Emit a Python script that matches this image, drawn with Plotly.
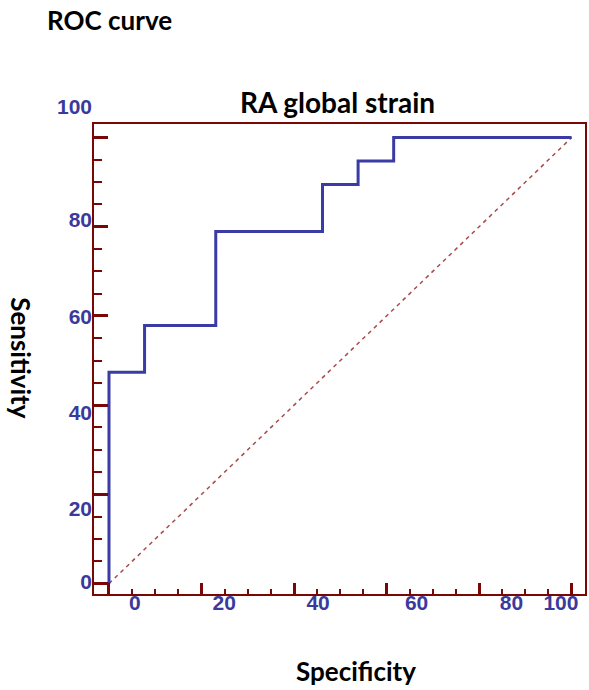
import plotly.graph_objects as go

# ROC curve data (100 - specificity, sensitivity)
fpr = [0, 0, 7.69, 23.08, 46.15, 53.85, 61.54, 100]
tpr = [0, 47.37, 57.89, 78.95, 89.47, 94.74, 100, 100]
diag_x = [0, 100]
diag_y = [0, 100]

# tick labels as printed in the reference, with the value where each one sits
x_tick_text = ["0", "20", "40", "60", "80", "100"]
x_tick_at = [5.6, 24.9, 45.2, 66.5, 87.0, 97.7]
y_tick_text = ["100", "80", "60", "40", "20", "0"]
y_tick_at = [107.0, 81.6, 59.8, 38.4, 16.8, 0.5]

FRAME = "#7a0606"
BLUE = "#3b3ba6"
LABEL_BLUE = "#3a3a9c"
TXT_FONT = "Lato"
TICK_FONT = dict(family="Liberation Sans, Arial", size=21, color=LABEL_BLUE, weight="bold")

XR = [-3.24, 102.9]
YR = [-2.33, 103.1]

fig = go.Figure()
fig.add_trace(go.Scatter(x=diag_x, y=diag_y, mode="lines",
                         line=dict(color="#a84a4a", width=1.5, dash="4px,4px"),
                         hoverinfo="skip", showlegend=False))
fig.add_trace(go.Scatter(x=fpr, y=tpr, mode="lines", line_shape="hv",
                         line=dict(color=BLUE, width=3), showlegend=False))

W, H = 589, 690
ml, mr, mt, mb = 94, 4, 95, 96.3
plot_h = H - mt - mb
frame_top = 123.7
ydom_top = (H - mb - frame_top) / plot_h
px_per_y = (H - mb - frame_top) / (YR[1] - YR[0])
y2_top = YR[0] + plot_h / px_per_y

axis_common = dict(showgrid=False, zeroline=False, showline=True, linecolor=FRAME,
                   linewidth=2, mirror=True, showticklabels=False,
                   tickmode="linear", tick0=0, dtick=20, ticks="inside",
                   tickcolor=FRAME, tickwidth=2.5)

fig.update_layout(
    width=W, height=H,
    margin=dict(l=ml, r=mr, t=mt, b=mb, autoexpand=False),
    paper_bgcolor="white", plot_bgcolor="rgba(0,0,0,0)",
    xaxis=dict(range=XR, domain=[0, 1], ticklen=11,
               minor=dict(tick0=0, dtick=5, ticks="inside", ticklen=5,
                          tickwidth=1.5, tickcolor=FRAME),
               **axis_common),
    yaxis=dict(range=YR, domain=[0, ydom_top], ticklen=14,
               minor=dict(tick0=0, dtick=5, ticks="inside", ticklen=8,
                          tickwidth=1.5, tickcolor=FRAME),
               **axis_common),
    xaxis2=dict(overlaying="x", anchor="y", side="bottom", range=XR,
                tickmode="array", tickvals=x_tick_at, ticktext=x_tick_text,
                ticks="", showline=False, showgrid=False, zeroline=False,
                ticklabelstandoff=-6, tickfont=TICK_FONT),
    yaxis2=dict(anchor="free", position=0, side="left", domain=[0, 1],
                range=[YR[0], y2_top],
                tickmode="array", tickvals=y_tick_at, ticktext=y_tick_text,
                ticks="", showline=False, showgrid=False, zeroline=False,
                ticklabelstandoff=2, tickfont=TICK_FONT),
    title=dict(text="RA global strain", x=(337.5 - ml) / (W - ml - mr),
               xref="paper", xanchor="center",
               y=1 - 103 / H, yref="container", yanchor="middle",
               font=dict(family=TXT_FONT, size=28, color="black", weight="bold")),
    annotations=[
        dict(text="ROC curve", xref="paper", yref="paper",
             x=(45 - ml) / (W - ml - mr), y=(H - mb - 20) / plot_h,
             xanchor="left", yanchor="middle", showarrow=False,
             font=dict(family=TXT_FONT, size=26, color="black", weight="bold")),
        dict(text="Speci\u200cfi\u200ccity", xref="paper", yref="paper",
             x=(355.8 - ml) / (W - ml - mr), y=(H - mb - 671) / plot_h,
             xanchor="center", yanchor="middle", showarrow=False,
             font=dict(family=TXT_FONT, size=26, color="black", weight="bold")),
        dict(text="Sensitivity", xref="paper", yref="paper",
             x=(21 - ml) / (W - ml - mr), y=(H - mb - 358) / plot_h,
             xanchor="center", yanchor="middle", showarrow=False, textangle=90,
             font=dict(family=TXT_FONT, size=26, color="black", weight="bold")),
    ],
)

# invisible trace so the label-only axes are drawn
fig.add_trace(go.Scatter(x=[None], y=[None], xaxis="x2", yaxis="y2",
                         showlegend=False, hoverinfo="skip"))

fig.write_html("out.html")
